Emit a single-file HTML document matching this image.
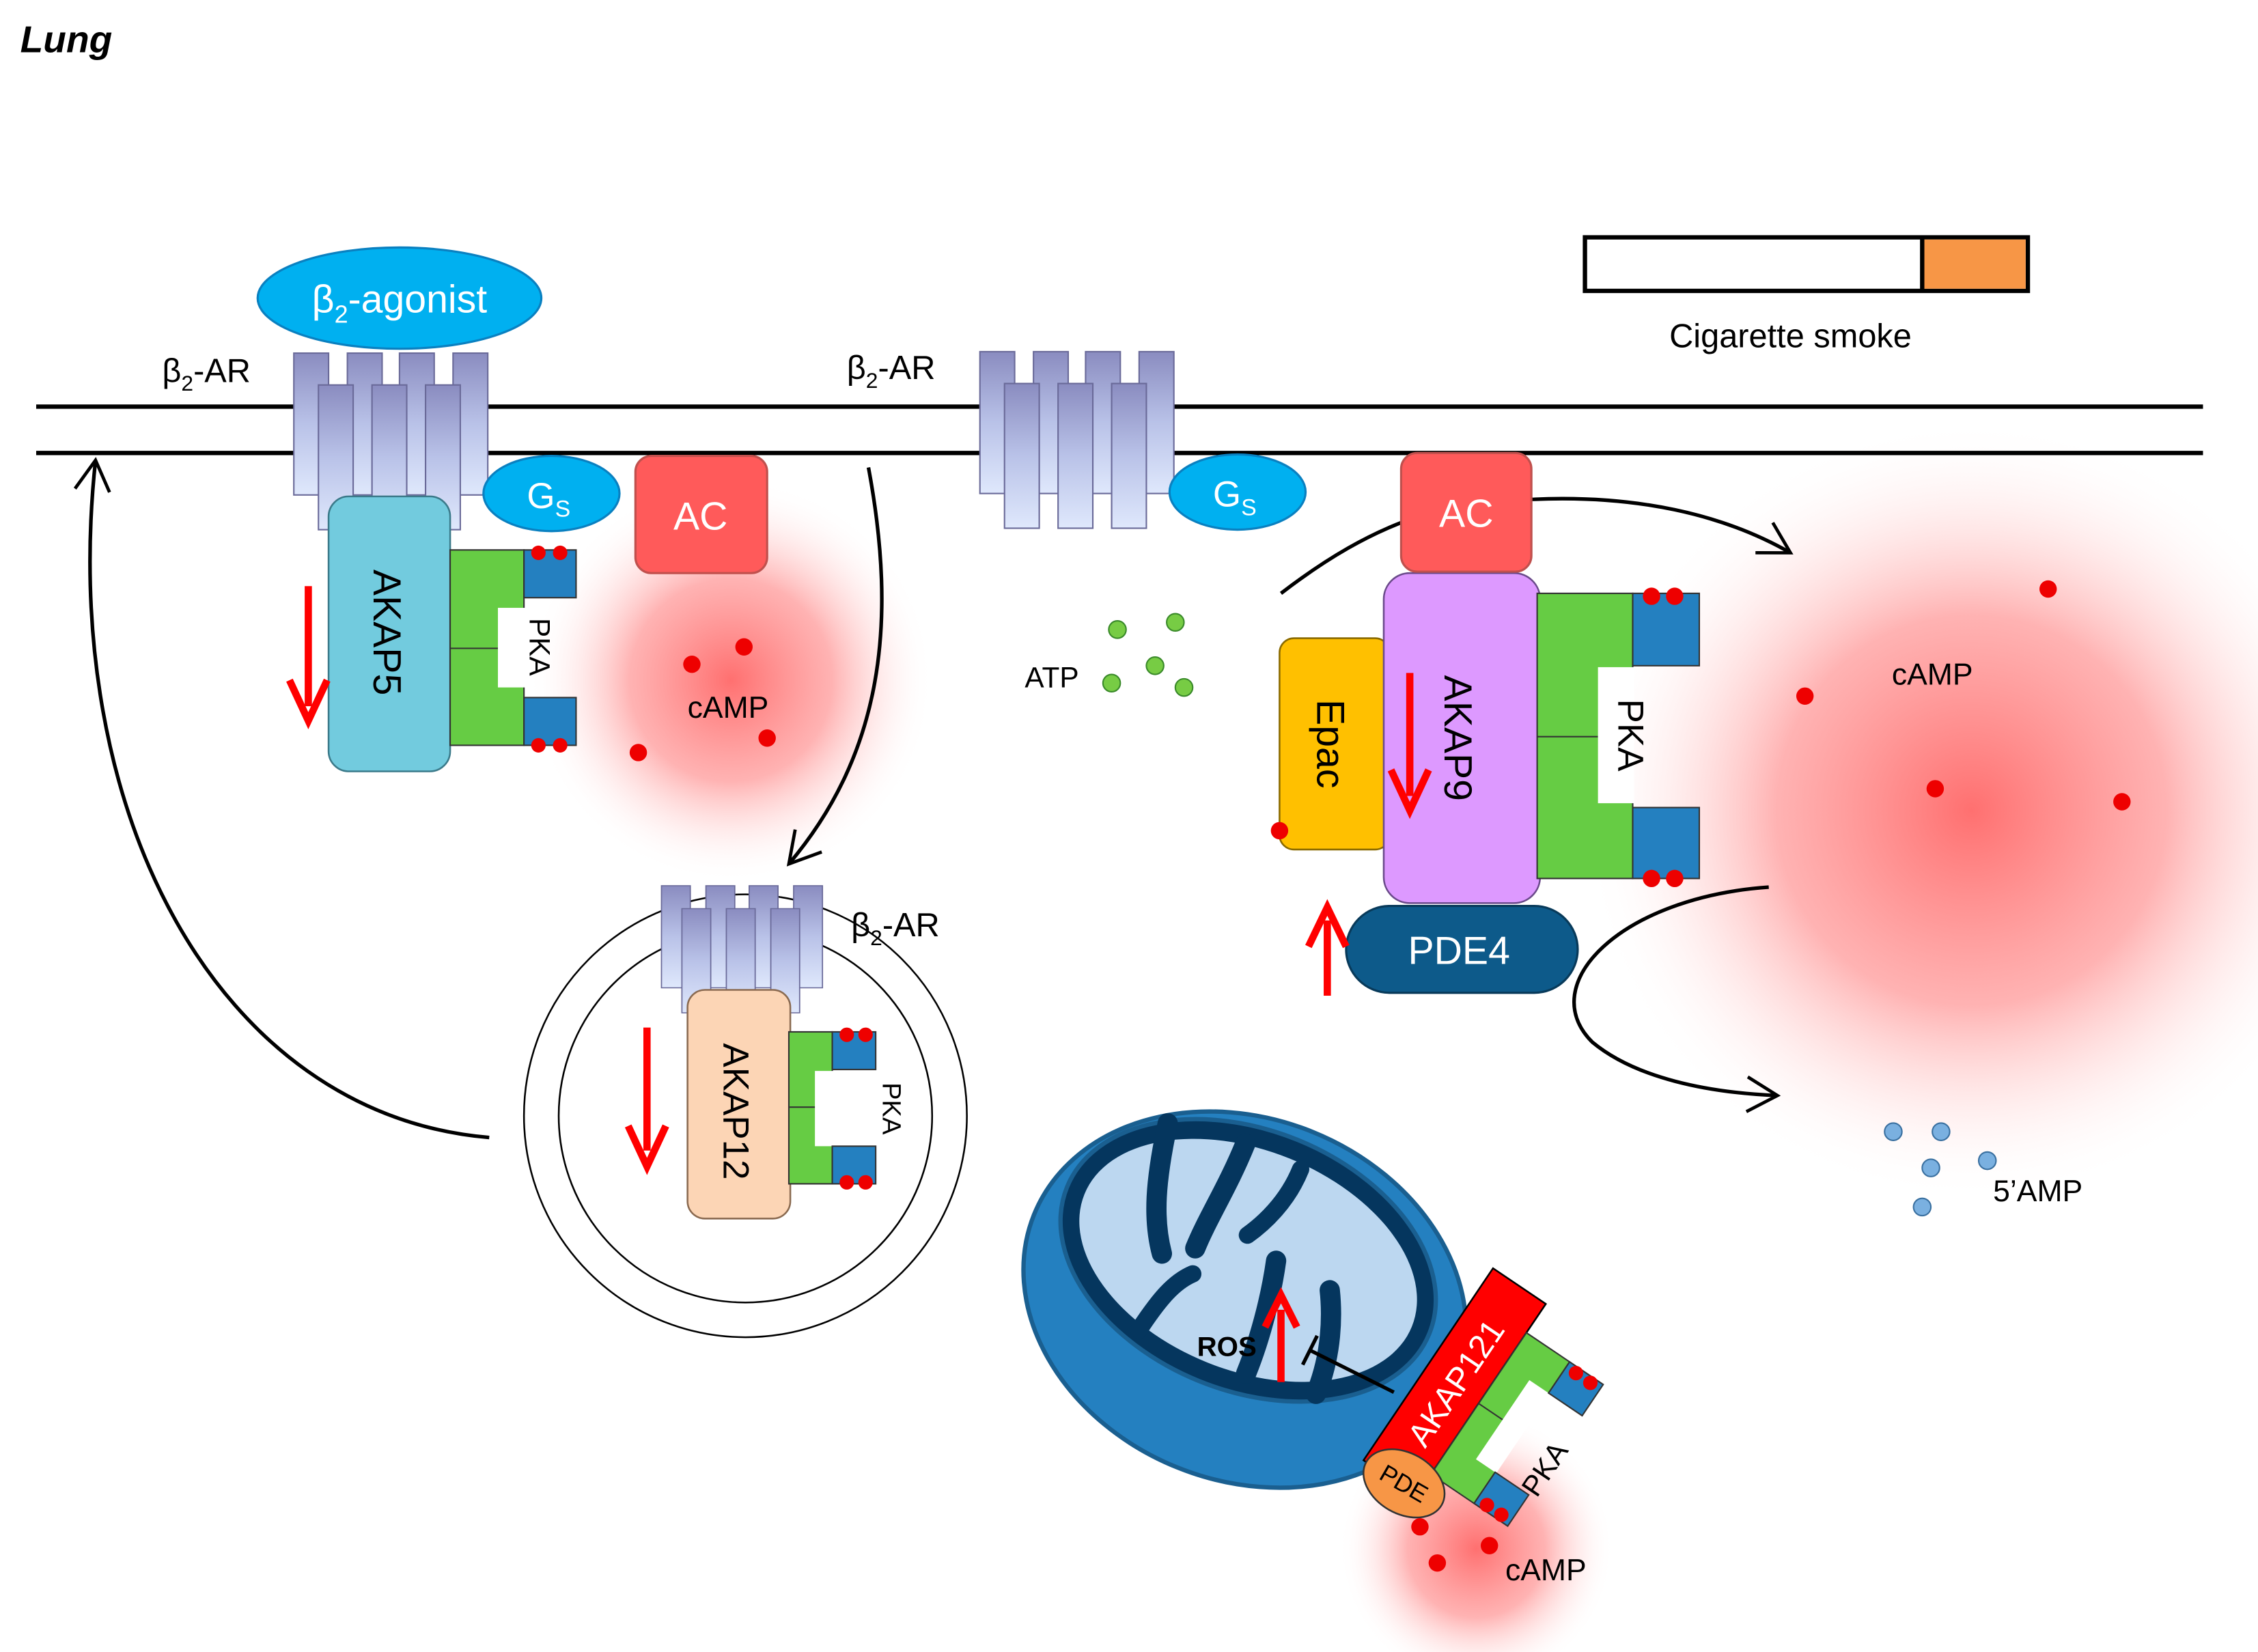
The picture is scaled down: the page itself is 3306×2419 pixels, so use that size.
<!DOCTYPE html>
<html><head><meta charset="utf-8"><style>html,body{margin:0;padding:0;background:#fff}svg{display:block}</style></head><body>
<svg width="3306" height="2419" viewBox="0 0 1560 1141.5" preserveAspectRatio="none" xmlns="http://www.w3.org/2000/svg" font-family="Liberation Sans, sans-serif">
<defs>
<linearGradient id="rg" x1="0" y1="0" x2="0" y2="1"><stop offset="0" stop-color="#8a8cc0"/><stop offset="0.5" stop-color="#b9c2e8"/><stop offset="1" stop-color="#dfe8fc"/></linearGradient>
<radialGradient id="glow"><stop offset="0" stop-color="#ff6060" stop-opacity="0.9"/><stop offset="0.5" stop-color="#ff8080" stop-opacity="0.6"/><stop offset="1" stop-color="#ffffff" stop-opacity="0"/></radialGradient>
<marker id="ahb" viewBox="0 0 20 20" refX="16" refY="10" markerWidth="30" markerHeight="30" markerUnits="userSpaceOnUse" orient="auto"><path d="M2,2 L16,10 L2,18" fill="none" stroke="#000" stroke-width="1.5"/></marker>
<g id="rec">
<rect x="0" y="0" width="24" height="98" fill="url(#rg)" stroke="#6a6a99" stroke-width="1"/>
<rect x="37" y="0" width="24" height="98" fill="url(#rg)" stroke="#6a6a99" stroke-width="1"/>
<rect x="73" y="0" width="24" height="98" fill="url(#rg)" stroke="#6a6a99" stroke-width="1"/>
<rect x="110" y="0" width="24" height="98" fill="url(#rg)" stroke="#6a6a99" stroke-width="1"/>
<rect x="17" y="22" width="24" height="100" fill="url(#rg)" stroke="#6a6a99" stroke-width="1"/>
<rect x="54" y="22" width="24" height="100" fill="url(#rg)" stroke="#6a6a99" stroke-width="1"/>
<rect x="91" y="22" width="24" height="100" fill="url(#rg)" stroke="#6a6a99" stroke-width="1"/>
</g>
</defs>

<text x="14" y="36" font-size="26" font-weight="bold" font-style="italic">Lung</text>

<circle cx="505" cy="470" r="140" fill="url(#glow)"/>
<circle cx="1362" cy="560" r="270" fill="url(#glow)"/>
<circle cx="1020" cy="1070" r="95" fill="url(#glow)"/>

<line x1="25" y1="281" x2="1522" y2="281" stroke="#000" stroke-width="3"/>
<line x1="25" y1="313" x2="1522" y2="313" stroke="#000" stroke-width="3"/>

<rect x="1095" y="164" width="306" height="37" fill="#fff" stroke="#000" stroke-width="3"/>
<rect x="1328" y="165.5" width="71.5" height="34" fill="#f79646"/>
<line x1="1328" y1="164" x2="1328" y2="201" stroke="#000" stroke-width="3"/>
<text x="1237" y="240" font-size="23" text-anchor="middle">Cigarette smoke</text>

<ellipse cx="276" cy="206" rx="98" ry="35" fill="#00b0f0" stroke="#0a80c0" stroke-width="1.5"/>
<text x="276" y="216" font-size="27" fill="#fff" text-anchor="middle">β<tspan font-size="17" dy="7">2</tspan><tspan dy="-7">-agonist</tspan></text>
<text x="112" y="264" font-size="23">β<tspan font-size="15" dy="6">2</tspan><tspan dy="-6">-AR</tspan></text>
<use href="#rec" x="203" y="244"/>
<ellipse cx="381" cy="341" rx="47" ry="26" fill="#00b0f0" stroke="#0a80c0" stroke-width="1.5"/>
<text x="364" y="351" font-size="25" fill="#fff">G<tspan font-size="16" dy="6">S</tspan></text>
<rect x="439" y="315" width="91" height="81" rx="11" fill="#ff5a5a" stroke="#c0504d" stroke-width="1.5"/>
<text x="484" y="366" font-size="27" fill="#fff" text-anchor="middle">AC</text>
<rect x="227" y="343" width="84" height="190" rx="14" fill="#72cbde" stroke="#3b7a8a" stroke-width="1.2"/>
<text transform="translate(258,437) rotate(90)" font-size="27" text-anchor="middle">AKAP5</text>
<line x1="213" y1="405" x2="213" y2="488" stroke="#f00" stroke-width="5"/>
<path d="M200,470 L213,498 L226,470" fill="none" stroke="#f00" stroke-width="5"/>
<rect x="311" y="380" width="51" height="135" fill="#66cc44" stroke="#333" stroke-width="1"/>
<line x1="311" y1="448" x2="344" y2="448" stroke="#333"/>
<rect x="344" y="420" width="19" height="55" fill="#fff"/>
<rect x="362" y="380" width="36" height="33" fill="#2480c0" stroke="#333"/>
<rect x="362" y="482" width="36" height="33" fill="#2480c0" stroke="#333"/>
<circle cx="372" cy="382" r="5" fill="#e00"/><circle cx="387" cy="382" r="5" fill="#e00"/>
<circle cx="372" cy="515" r="5" fill="#e00"/><circle cx="387" cy="515" r="5" fill="#e00"/>
<text transform="translate(366,447) rotate(90)" font-size="20" text-anchor="middle">PKA</text>
<circle cx="514" cy="447" r="6" fill="#e00"/><circle cx="478" cy="459" r="6" fill="#e00"/><circle cx="441" cy="520" r="6" fill="#e00"/><circle cx="530" cy="510" r="6" fill="#e00"/>
<text x="475" y="496" font-size="21">cAMP</text>

<path d="M338,786 C150,770 40,560 66,318" fill="none" stroke="#000" stroke-width="2.5" marker-end="url(#ahb)"/>
<path d="M600,323 C620,430 610,520 545,597" fill="none" stroke="#000" stroke-width="2.5" marker-end="url(#ahb)"/>
<path d="M885,410 C950,360 1000,345 1060,345 C1130,342 1190,355 1237,382" fill="none" stroke="#000" stroke-width="2.5" marker-end="url(#ahb)"/>
<path d="M1222,613 C1120,620 1060,680 1100,720 C1130,745 1180,755 1228,757" fill="none" stroke="#000" stroke-width="2.5" marker-end="url(#ahb)"/>

<text x="585" y="262" font-size="23">β<tspan font-size="15" dy="6">2</tspan><tspan dy="-6">-AR</tspan></text>
<use href="#rec" x="677" y="243"/>
<ellipse cx="855" cy="340" rx="47" ry="26" fill="#00b0f0" stroke="#0a80c0" stroke-width="1.5"/>
<text x="838" y="350" font-size="25" fill="#fff">G<tspan font-size="16" dy="6">S</tspan></text>
<circle cx="772" cy="435" r="6" fill="#77cc44" stroke="#3a8a2a"/><circle cx="812" cy="430" r="6" fill="#77cc44" stroke="#3a8a2a"/><circle cx="798" cy="460" r="6" fill="#77cc44" stroke="#3a8a2a"/><circle cx="768" cy="472" r="6" fill="#77cc44" stroke="#3a8a2a"/><circle cx="818" cy="475" r="6" fill="#77cc44" stroke="#3a8a2a"/>
<text x="708" y="475" font-size="20">ATP</text>

<rect x="884" y="441" width="76" height="146" rx="10" fill="#ffc000" stroke="#8a6a00" stroke-width="1.2"/>
<text transform="translate(910,514) rotate(90)" font-size="27" text-anchor="middle">Epac</text>
<circle cx="884" cy="574" r="6" fill="#e00"/>
<rect x="956" y="396" width="108" height="228" rx="18" fill="#dd99ff" stroke="#6a4a8a" stroke-width="1.2"/>
<text transform="translate(998,510) rotate(90)" font-size="27" text-anchor="middle">AKAP9</text>
<line x1="974" y1="465" x2="974" y2="550" stroke="#f00" stroke-width="5"/>
<path d="M961,532 L974,560 L987,532" fill="none" stroke="#f00" stroke-width="5"/>
<rect x="968" y="313" width="90" height="82" rx="11" fill="#ff5a5a" stroke="#c0504d" stroke-width="1.5"/>
<text x="1013" y="364" font-size="27" fill="#fff" text-anchor="middle">AC</text>
<rect x="1062" y="410" width="66" height="197" fill="#66cc44" stroke="#333"/>
<line x1="1062" y1="509" x2="1104" y2="509" stroke="#333"/>
<rect x="1104" y="461" width="25" height="94" fill="#fff"/>
<rect x="1128" y="410" width="46" height="50" fill="#2480c0" stroke="#333"/>
<rect x="1128" y="558" width="46" height="49" fill="#2480c0" stroke="#333"/>
<circle cx="1141" cy="412" r="6" fill="#e00"/><circle cx="1157" cy="412" r="6" fill="#e00"/>
<circle cx="1141" cy="607" r="6" fill="#e00"/><circle cx="1157" cy="607" r="6" fill="#e00"/>
<text transform="translate(1118,508) rotate(90)" font-size="25" text-anchor="middle">PKA</text>
<rect x="930" y="626" width="160" height="60" rx="30" fill="#0d5a8a" stroke="#083a5a" stroke-width="1.5"/>
<text x="1008" y="666" font-size="27" fill="#fff" text-anchor="middle">PDE4</text>
<line x1="917" y1="688" x2="917" y2="636" stroke="#f00" stroke-width="5"/>
<path d="M904,654 L917,627 L930,654" fill="none" stroke="#f00" stroke-width="5"/>
<circle cx="1415" cy="407" r="6" fill="#e00"/><circle cx="1247" cy="481" r="6" fill="#e00"/><circle cx="1337" cy="545" r="6" fill="#e00"/><circle cx="1466" cy="554" r="6" fill="#e00"/>
<text x="1307" y="473" font-size="21">cAMP</text>
<circle cx="1308" cy="782" r="6" fill="#7ab0e0" stroke="#3a70a0"/><circle cx="1341" cy="782" r="6" fill="#7ab0e0" stroke="#3a70a0"/><circle cx="1334" cy="807" r="6" fill="#7ab0e0" stroke="#3a70a0"/><circle cx="1373" cy="802" r="6" fill="#7ab0e0" stroke="#3a70a0"/><circle cx="1328" cy="834" r="6" fill="#7ab0e0" stroke="#3a70a0"/>
<text x="1377" y="830" font-size="21">5’AMP</text>

<circle cx="515" cy="771" r="153" fill="none" stroke="#000" stroke-width="1.2"/>
<circle cx="515" cy="771" r="129" fill="none" stroke="#000" stroke-width="1.2"/>
<g transform="translate(457,612) scale(0.83,0.72)"><use href="#rec"/></g>
<text x="588" y="647" font-size="23">β<tspan font-size="15" dy="6">2</tspan><tspan dy="-6">-AR</tspan></text>
<rect x="475" y="684" width="71" height="158" rx="12" fill="#fcd5b5" stroke="#8a6a50" stroke-width="1.2"/>
<text transform="translate(500,768) rotate(90)" font-size="25" text-anchor="middle">AKAP12</text>
<line x1="447" y1="710" x2="447" y2="795" stroke="#f00" stroke-width="5"/>
<path d="M434,778 L447,806 L460,778" fill="none" stroke="#f00" stroke-width="5"/>
<rect x="545" y="713" width="30" height="105" fill="#66cc44" stroke="#333"/>
<line x1="545" y1="765" x2="565" y2="765" stroke="#333"/>
<rect x="563" y="740" width="14" height="52" fill="#fff"/>
<rect x="575" y="713" width="30" height="26" fill="#2480c0" stroke="#333"/>
<rect x="575" y="792" width="30" height="26" fill="#2480c0" stroke="#333"/>
<circle cx="585" cy="715" r="5" fill="#e00"/><circle cx="598" cy="715" r="5" fill="#e00"/>
<circle cx="585" cy="817" r="5" fill="#e00"/><circle cx="598" cy="817" r="5" fill="#e00"/>
<text transform="translate(610,766) rotate(90)" font-size="18" text-anchor="middle">PKA</text>

<!-- mitochondrion -->
<g transform="rotate(22 860 898)">
<ellipse cx="860" cy="898" rx="157" ry="125" fill="#2480c0" stroke="#1a5f90" stroke-width="3"/>
<ellipse cx="852" cy="872" rx="135" ry="90" fill="#05365e" stroke="#1a5f90" stroke-width="3"/>
<ellipse cx="852" cy="872" rx="122" ry="76" fill="#bcd7f0"/>
<path d="M765,805 C772,845 780,870 795,890" stroke="#05365e" stroke-width="14" fill="none" stroke-linecap="round"/>
<path d="M820,798 C820,830 815,855 815,878" stroke="#05365e" stroke-width="14" fill="none" stroke-linecap="round"/>
<path d="M880,945 C880,915 875,885 870,865" stroke="#05365e" stroke-width="14" fill="none" stroke-linecap="round"/>
<path d="M930,940 C930,910 920,885 912,870" stroke="#05365e" stroke-width="14" fill="none" stroke-linecap="round"/>
<path d="M862,800 C862,825 852,845 845,856" stroke="#05365e" stroke-width="12" fill="none" stroke-linecap="round"/>
<path d="M800,945 C805,920 810,905 820,895" stroke="#05365e" stroke-width="12" fill="none" stroke-linecap="round"/>
</g>
<text x="827" y="937" font-size="19" font-weight="bold">ROS</text>
<line x1="885" y1="955" x2="885" y2="905" stroke="#f00" stroke-width="5"/>
<path d="M874,917 L885,895 L896,917" fill="none" stroke="#f00" stroke-width="5"/>
<line x1="963" y1="962" x2="905" y2="933" stroke="#000" stroke-width="2.5"/>
<line x1="900" y1="943" x2="910" y2="923" stroke="#000" stroke-width="2.5"/>

<g transform="translate(1005,955) rotate(-56)">
<rect x="-80" y="-22" width="160" height="44" fill="#f00" stroke="#000" stroke-width="1.2"/>
<text x="0" y="9" font-size="23" fill="#fff" text-anchor="middle">AKAP121</text>
<rect x="-62" y="22" width="118" height="36" fill="#66cc44" stroke="#333"/>
<line x1="-3" y1="22" x2="-3" y2="42" stroke="#333"/>
<rect x="-36" y="42" width="66" height="17" fill="#fff"/>
<rect x="-62" y="58" width="26" height="28" fill="#2480c0" stroke="#333"/>
<rect x="30" y="58" width="26" height="28" fill="#2480c0" stroke="#333"/>
<circle cx="-58" cy="66" r="5" fill="#e00"/><circle cx="-58" cy="78" r="5" fill="#e00"/>
<circle cx="52" cy="66" r="5" fill="#e00"/><circle cx="52" cy="78" r="5" fill="#e00"/>
<text x="-15" y="92" font-size="20" text-anchor="middle">PKA</text>
</g>
<ellipse cx="970" cy="1025" rx="30" ry="21" transform="rotate(30 970 1025)" fill="#f79646" stroke="#333" stroke-width="1.2"/>
<text x="970" y="1031" font-size="17" text-anchor="middle" transform="rotate(30 970 1025)">PDE</text>
<circle cx="981" cy="1055" r="6" fill="#e00"/><circle cx="993" cy="1080" r="6" fill="#e00"/><circle cx="1029" cy="1068" r="6" fill="#e00"/>
<text x="1040" y="1092" font-size="21">cAMP</text>
</svg>
</body></html>
